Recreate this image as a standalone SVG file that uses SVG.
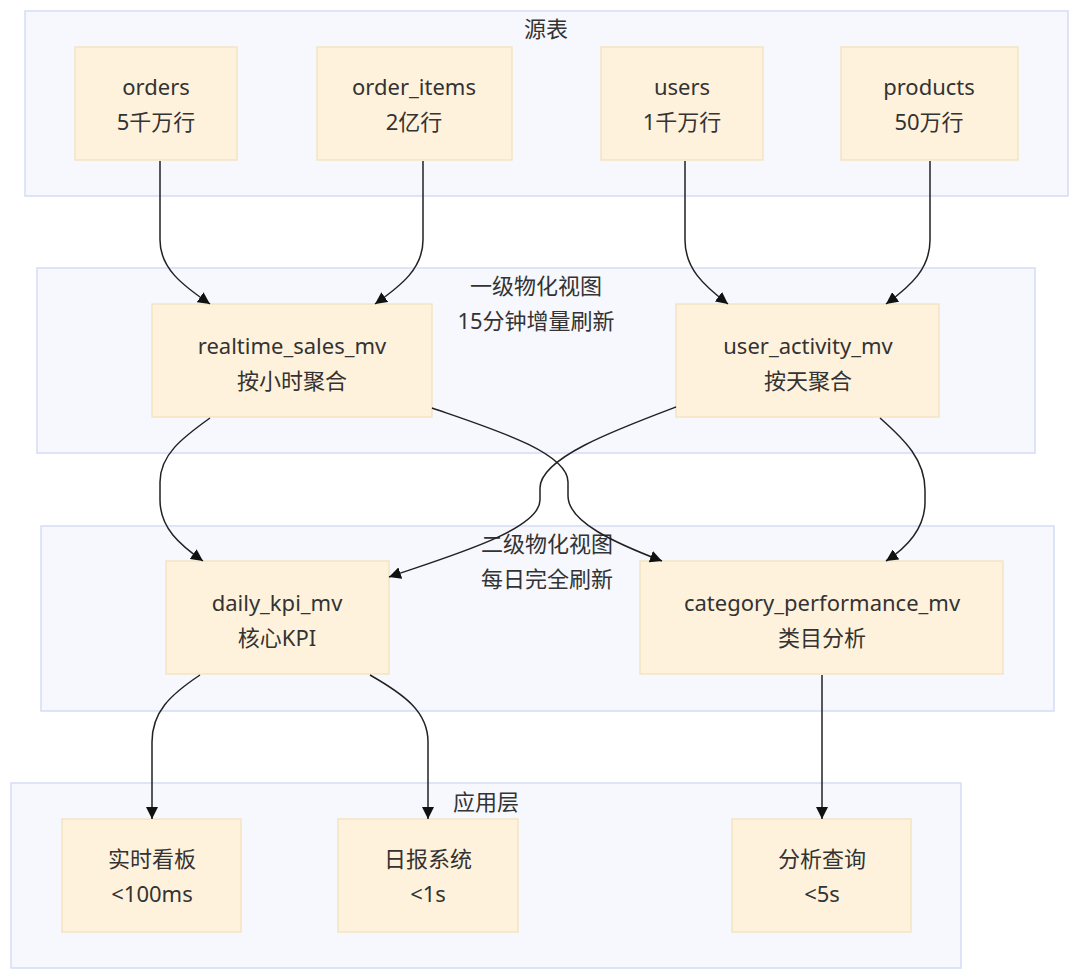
<svg xmlns="http://www.w3.org/2000/svg" width="1080" height="980" viewBox="0 0 1080 980">
<defs>
<style>
.cl{fill:#f7f8fd;stroke:#d5ddf5;stroke-width:1.5}
.nd{fill:#fff2dc;stroke:#f3e3c2;stroke-width:1.5}
text{font-family:"Noto Sans","Noto Sans CJK SC",sans-serif;font-size:22px;fill:#333;text-anchor:middle;dominant-baseline:central}
.e{fill:none;stroke:#222;stroke-width:1.5;marker-end:url(#ah)}
</style>
<marker id="ah" viewBox="0 0 10 10" refX="10" refY="5" markerWidth="12" markerHeight="12" markerUnits="userSpaceOnUse" orient="auto">
<path d="M0,0 L10,5 L0,10 z" fill="#111"/>
</marker>
</defs>
<rect width="1080" height="980" fill="#fff"/>
<g id="cluster-src"><rect class="cl" x="25" y="11" width="1043" height="185"/><text x="546" y="28">源表</text></g>
<g id="cluster-l1"><rect class="cl" x="37" y="268" width="998" height="185"/><text x="536" y="285">一级物化视图</text><text x="536" y="320">15分钟增量刷新</text></g>
<g id="cluster-l2"><rect class="cl" x="41" y="526" width="1013" height="185"/><text x="547" y="543">二级物化视图</text><text x="547" y="578">每日完全刷新</text></g>
<g id="cluster-app"><rect class="cl" x="11" y="783" width="950" height="185"/><text x="486" y="801">应用层</text></g>

<g id="orders"><rect class="nd" x="75" y="47" width="162" height="113"/><text x="156" y="86">orders</text><text x="156" y="121">5千万行</text></g>
<g id="order_items"><rect class="nd" x="317" y="47" width="195" height="113"/><text x="414" y="86">order_items</text><text x="414" y="121">2亿行</text></g>
<g id="users"><rect class="nd" x="601" y="47" width="162" height="113"/><text x="682" y="86">users</text><text x="682" y="121">1千万行</text></g>
<g id="products"><rect class="nd" x="841" y="47" width="177" height="113"/><text x="929" y="86">products</text><text x="929" y="121">50万行</text></g>

<g id="realtime_sales_mv"><rect class="nd" x="152" y="304" width="280" height="113"/><text x="292" y="345">realtime_sales_mv</text><text x="292" y="380">按小时聚合</text></g>
<g id="user_activity_mv"><rect class="nd" x="676" y="304" width="263" height="113"/><text x="808" y="345">user_activity_mv</text><text x="808" y="380">按天聚合</text></g>

<g id="daily_kpi_mv"><rect class="nd" x="166" y="561" width="223" height="113"/><text x="277" y="602">daily_kpi_mv</text><text x="277" y="637">核心KPI</text></g>
<g id="category_performance_mv"><rect class="nd" x="640" y="561" width="363" height="113"/><text x="822" y="602">category_performance_mv</text><text x="822" y="637">类目分析</text></g>

<g id="dashboard"><rect class="nd" x="62" y="819" width="179" height="113"/><text x="152" y="858">实时看板</text><text x="152" y="893">&lt;100ms</text></g>
<g id="daily_report"><rect class="nd" x="338" y="819" width="180" height="113"/><text x="428" y="858">日报系统</text><text x="428" y="893">&lt;1s</text></g>
<g id="analysis"><rect class="nd" x="732" y="819" width="179" height="113"/><text x="822" y="858">分析查询</text><text x="822" y="893">&lt;5s</text></g>

<g id="connectors">
<path class="e" d="M160,161 L160,240 C160,268 182,285 210,304"/>
<path class="e" d="M423,161 L423,240 C423,268 402,285 375,304"/>
<path class="e" d="M685,161 L685,240 C685,268 703,285 728,304"/>
<path class="e" d="M930,161 L930,240 C930,268 912,285 886,304"/>
<path class="e" d="M210,418 C182,438 160,455 160,482 L160,500 C160,528 180,545 203,561"/>
<path class="e" d="M432,408 C490,428 568,452 568,482 L568,496 C568,522 615,543 662,561"/>
<path class="e" d="M676,407 C615,430 540,458 540,488 L540,500 C540,530 450,556 389,577"/>
<path class="e" d="M880,418 C905,440 925,460 925,490 L925,502 C925,530 906,548 886,561"/>
<path class="e" d="M200,675 C170,695 152,712 152,742 L152,819"/>
<path class="e" d="M370,675 C405,695 428,712 428,742 L428,819"/>
<path class="e" d="M822,675 L822,819"/>
</g>
</svg>
